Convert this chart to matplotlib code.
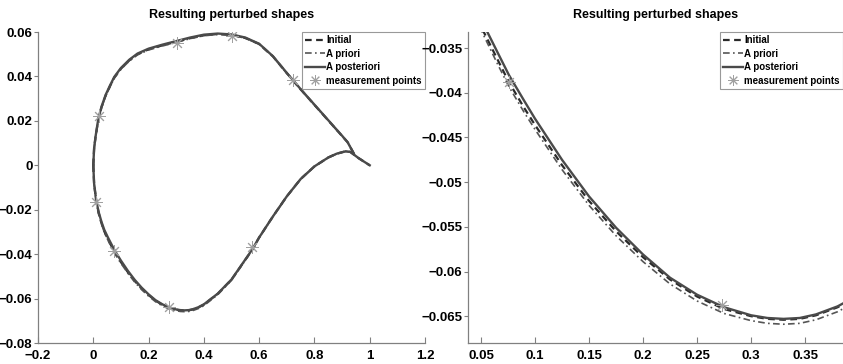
import matplotlib
matplotlib.use("Agg")
import matplotlib.pyplot as plt
from matplotlib.ticker import FuncFormatter

plt.rcParams['font.family'] = ['Liberation Sans', 'DejaVu Sans']
plt.rcParams['font.weight'] = 'bold'

# ---- data ----
x_upper = [0.0, 0.003, 0.008, 0.018, 0.03, 0.045, 0.06, 0.076, 0.1, 0.13, 0.16, 0.2, 0.25,
           0.3, 0.35, 0.4, 0.45, 0.5, 0.55, 0.6, 0.65, 0.7, 0.75, 0.8, 0.85, 0.9, 0.92, 0.942]
initial_upper = [0.0, 0.0075, 0.0125, 0.0205, 0.0262, 0.0315, 0.0355, 0.0395, 0.0435, 0.0472,
                 0.0500, 0.0522, 0.0540, 0.0556, 0.0572, 0.0585, 0.0591, 0.0587, 0.0573, 0.0546,
                 0.0490, 0.0415, 0.0342, 0.0272, 0.0202, 0.0132, 0.0104, 0.0054]
apriori_upper = [0.0, 0.0073, 0.0122, 0.0202, 0.0259, 0.0312, 0.0352, 0.0392, 0.0432, 0.0469,
                 0.0497, 0.0519, 0.0537, 0.0553, 0.0570, 0.0583, 0.0589, 0.0586, 0.0572, 0.0545,
                 0.0489, 0.0414, 0.0341, 0.0271, 0.0201, 0.0131, 0.0104, 0.0054]
aposteriori_upper = [0.0, 0.0077, 0.0128, 0.0208, 0.0265, 0.0318, 0.0358, 0.0398, 0.0438, 0.0475,
                     0.0503, 0.0525, 0.0543, 0.0559, 0.0575, 0.0588, 0.0593, 0.0589, 0.0575, 0.0547,
                     0.0491, 0.0416, 0.0343, 0.0273, 0.0203, 0.0133, 0.0104, 0.0054]

x_lower = [0.0, 0.003, 0.011, 0.02, 0.03, 0.04, 0.053, 0.065, 0.0758, 0.09, 0.1, 0.125, 0.15,
           0.175, 0.2, 0.225, 0.25, 0.275, 0.3, 0.315, 0.33, 0.345, 0.36, 0.38, 0.4, 0.45, 0.5,
           0.574, 0.6, 0.65, 0.7, 0.75, 0.8, 0.85, 0.88, 0.913, 0.93, 0.96, 1.0]
initial_lower = [0.0, -0.0085, -0.0166, -0.0218, -0.0262, -0.0298, -0.0333, -0.0362, -0.0388,
                 -0.0417, -0.0436, -0.0481, -0.0521, -0.0555, -0.0584, -0.0609, -0.0628, -0.0642,
                 -0.0650, -0.0653, -0.0654, -0.0653, -0.0649, -0.0640, -0.0627, -0.0579, -0.0515,
                 -0.0382, -0.0325, -0.0230, -0.0140, -0.0062, -0.0005, 0.0035, 0.0052, 0.0063,
                 0.0060, 0.0032, 0.0]
apriori_lower = [0.0, -0.0087, -0.0169, -0.0222, -0.0266, -0.0302, -0.0337, -0.0367, -0.0393,
                 -0.0422, -0.0441, -0.0486, -0.0526, -0.0560, -0.0589, -0.0614, -0.0633, -0.0647,
                 -0.0655, -0.0658, -0.0659, -0.0658, -0.0654, -0.0645, -0.0632, -0.0583, -0.0518,
                 -0.0384, -0.0327, -0.0231, -0.0141, -0.0063, -0.0006, 0.0034, 0.0051, 0.0062,
                 0.0060, 0.0032, 0.0]
aposteriori_lower = [0.0, -0.0082, -0.0162, -0.0213, -0.0256, -0.0291, -0.0325, -0.0354, -0.0380,
                     -0.0409, -0.0429, -0.0475, -0.0516, -0.0551, -0.0581, -0.0607, -0.0626, -0.0640,
                     -0.0649, -0.0652, -0.0653, -0.0652, -0.0648, -0.0639, -0.0626, -0.0578, -0.0514,
                     -0.0381, -0.0325, -0.0230, -0.0140, -0.0062, -0.0005, 0.0035, 0.0052, 0.0063,
                     0.0060, 0.0032, 0.0]

meas_x = [0.011, 0.020, 0.0758, 0.273, 0.303, 0.502, 0.574, 0.722]
meas_y = [-0.0166, 0.0220, -0.0388, -0.0638, 0.0552, 0.0583, -0.0368, 0.0386]

title_text = "Resulting perturbed shapes"
left_xticks = [-0.2, 0, 0.2, 0.4, 0.6, 0.8, 1, 1.2]
left_yticks = [-0.08, -0.06, -0.04, -0.02, 0, 0.02, 0.04, 0.06]
right_xticks = [0.05, 0.1, 0.15, 0.2, 0.25, 0.3, 0.35]
right_yticks = [-0.065, -0.06, -0.055, -0.05, -0.045, -0.04, -0.035]

# ---- figure ----
W, H = 843, 364
fig = plt.figure(figsize=(W / 100, H / 100), dpi=100)

def px_axes(x0, y0, x1, y1):
    return fig.add_axes([x0 / W, 1 - y1 / H, (x1 - x0) / W, (y1 - y0) / H])

axL = px_axes(38, 32, 425, 343)
axR = px_axes(468, 32, 843, 343)

spine_c = '#808080'
fmt = FuncFormatter(lambda v, p: ('%g' % v).replace('-', '\u2212'))

def draw(ax):
    ax.plot(x_upper, initial_upper, color='#2a2a2a', lw=1.6, ls=(0, (3, 2)))
    ax.plot(x_lower, initial_lower, color='#2a2a2a', lw=1.6, ls=(0, (3, 2)), label='Initial')
    ax.plot(x_upper, apriori_upper, color='#555555', lw=1.2, ls=(0, (4, 2, 1, 2)))
    ax.plot(x_lower, apriori_lower, color='#555555', lw=1.2, ls=(0, (4, 2, 1, 2)), label='A priori')
    ax.plot(x_upper, aposteriori_upper, color='#4a4a4a', lw=1.7, ls='-')
    ax.plot(x_lower, aposteriori_lower, color='#4a4a4a', lw=1.7, ls='-', label='A posteriori')
    ax.plot(meas_x, meas_y, ls='none', marker=(8, 2, 0), ms=9, mew=0.7, color='#a0a0a0',
            label='measurement points')
    for s in ['top', 'right']:
        ax.spines[s].set_visible(False)
    for s in ['left', 'bottom']:
        ax.spines[s].set_color(spine_c)
        ax.spines[s].set_linewidth(0.9)
    ax.tick_params(axis='y', direction='out', length=3, color=spine_c, labelsize=9.5, pad=1)
    ax.tick_params(axis='x', direction='in', length=4, color=spine_c, labelsize=9.5, pad=5)
    ax.xaxis.set_major_formatter(fmt)
    ax.yaxis.set_major_formatter(fmt)
    ax.set_title(title_text, fontsize=9, fontweight='bold', pad=10)
    leg = ax.legend(loc='upper right', fontsize=7, frameon=True, fancybox=False,
                    edgecolor=spine_c, handlelength=2.0, handletextpad=0.15, borderpad=0.35,
                    labelspacing=0.35, borderaxespad=0.0, numpoints=1, markerscale=0.85)
    leg.get_frame().set_linewidth(0.8)
    for t in leg.get_texts():
        t.set_fontweight('bold')

draw(axL)
axL.set_xlim(-0.2, 1.2)
axL.set_ylim(-0.08, 0.06)
axL.set_xticks(left_xticks)
axL.set_yticks(left_yticks)

draw(axR)
axR.set_xlim(0.038, 0.385)
axR.set_ylim(-0.068, -0.0332)
axR.set_xticks(right_xticks)
axR.set_yticks(right_yticks)

for ax in (axL, axR):
    for lab in ax.get_xticklabels() + ax.get_yticklabels():
        lab.set_fontweight('bold')

fig.savefig('out.png', dpi=100)
